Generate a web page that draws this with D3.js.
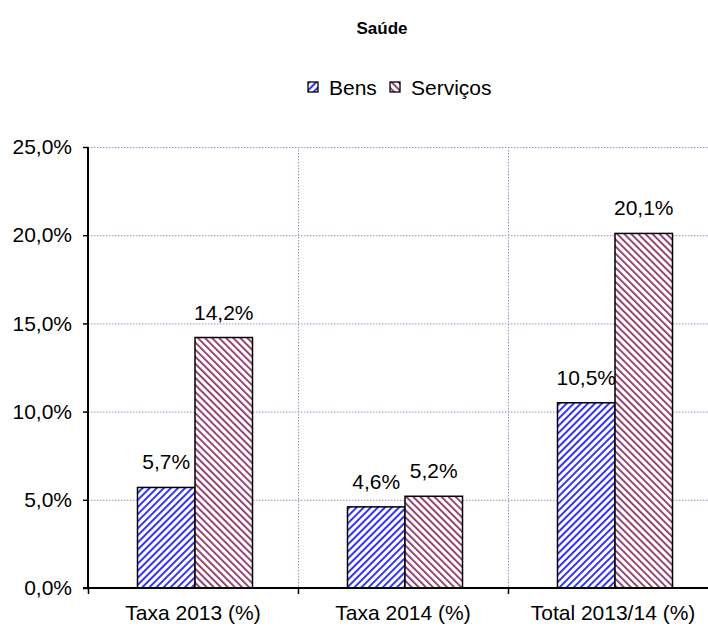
<!DOCTYPE html>
<html><head><meta charset="utf-8">
<script src="https://cdn.jsdelivr.net/npm/d3@7"></script>
<style>body{margin:0;background:#fff}svg{display:block;font-family:"Liberation Sans",Arial,sans-serif}</style>
</head><body><svg id="c" width="708" height="631"></svg>
<script>
const categories = ["Taxa 2013 (%)", "Taxa 2014 (%)", "Total 2013/14 (%)"];
const series = ["Bens", "Serviços"];
const bensValues = [0.057, 0.046, 0.105];
const servicosValues = [0.142, 0.052, 0.201];
const yTicks = [0, 0.05, 0.10, 0.15, 0.20, 0.25];
const title = "Saúde";

(function () {
const svg = d3.select("#c");
const FONT = "Liberation Sans, Arial, sans-serif";
const FS = 21;
const locale = d3.formatLocale({decimal: ",", thousands: ".", grouping: [3], currency: ["", ""]});
const fmt = locale.format(".1%");

const pL = 88, pR = 718, pT = 147, pB = 588;
const x = d3.scaleBand().domain(categories).range([pL, pR]).padding(0);
const xs = d3.scaleBand().domain(series).range([49.5, 164.5]).padding(0);
const y = d3.scaleLinear().domain([0, 0.25]).range([pB, pT]);

const defs = svg.append("defs");
function pat(id, color, dir, sw) {
  const p = defs.append("pattern").attr("id", id).attr("patternUnits", "userSpaceOnUse")
    .attr("width", 5).attr("height", 5)
    .attr("patternTransform", `rotate(${dir})`);
  p.append("rect").attr("width", 5).attr("height", 5).attr("fill", "#fff");
  p.append("rect").attr("x", 0).attr("y", 0).attr("width", sw).attr("height", 5).attr("fill", color);
}
pat("pBens", "#2a2af5", 45, 1.9);
pat("pServ", "#8e3366", -45, 1.8);
const fills = {"Bens": "url(#pBens)", "Serviços": "url(#pServ)"};

const grid = svg.append("g");
grid.selectAll("line.h").data(yTicks.filter(d => d > 0)).join("line")
  .attr("x1", pL).attr("x2", 708).attr("y1", d => y(d) + 0.5).attr("y2", d => y(d) + 0.5)
  .attr("stroke", "#9494cc").attr("stroke-width", 1).attr("stroke-dasharray", "1.5,1.5");
grid.selectAll("line.v").data(categories.slice(1)).join("line")
  .attr("x1", d => x(d) + 0.5).attr("x2", d => x(d) + 0.5).attr("y1", pT).attr("y2", pB)
  .attr("stroke", "#9494cc").attr("stroke-width", 1).attr("stroke-dasharray", "1.5,1.5");

const data = [];
categories.forEach((c, i) => {
  data.push({c, s: "Bens", v: bensValues[i]});
  data.push({c, s: "Serviços", v: servicosValues[i]});
});
svg.append("g").selectAll("rect").data(data).join("rect")
  .attr("x", d => x(d.c) + xs(d.s))
  .attr("y", d => y(d.v))
  .attr("width", xs.bandwidth())
  .attr("height", d => y(0) - y(d.v))
  .attr("fill", d => fills[d.s])
  .attr("stroke", "#000").attr("stroke-width", 1.5);

svg.append("g").selectAll("text").data(data).join("text")
  .attr("x", d => x(d.c) + xs(d.s) + xs.bandwidth() / 2)
  .attr("y", d => y(d.v) - 18)
  .attr("text-anchor", "middle").attr("font-size", FS).attr("fill", "#000")
  .text(d => fmt(d.v));

const yAxis = d3.axisLeft(y).tickValues(yTicks).tickFormat(fmt).tickSize(5).tickPadding(11);
const ya = svg.append("g").attr("transform", `translate(${pL},0)`).call(yAxis);
ya.select(".domain").attr("stroke", "#000").attr("stroke-width", 2).attr("d", `M0,${pT}V${pB}`);
ya.selectAll(".tick line").attr("stroke", "#000").attr("stroke-width", 1.5);
ya.selectAll(".tick text").attr("font-size", FS).attr("fill", "#000").attr("font-family", FONT);

const xAxis = d3.axisBottom(x).tickSize(0).tickPadding(17);
const xa = svg.append("g").attr("transform", `translate(0,${pB})`).call(xAxis);
xa.select(".domain").attr("stroke", "#000").attr("stroke-width", 2).attr("d", `M${pL - 5},0H${pR}`);
xa.selectAll(".tick text").attr("font-size", FS).attr("fill", "#000").attr("font-family", FONT);
svg.append("g").selectAll("line").data(categories).join("line")
  .attr("x1", d => x(d) + 0.5).attr("x2", d => x(d) + 0.5).attr("y1", pB).attr("y2", pB + 6)
  .attr("stroke", "#000").attr("stroke-width", 1.5);

svg.append("text").attr("x", 382).attr("y", 34).attr("text-anchor", "middle")
  .attr("font-size", 17).attr("font-weight", "bold").text(title);

const legX = [308, 390];
const lg = svg.append("g").selectAll("g").data(series).join("g")
  .attr("transform", (d, i) => `translate(${legX[i]},82)`);
lg.append("rect").attr("width", 10).attr("height", 10).attr("fill", d => fills[d])
  .attr("stroke", "#000").attr("stroke-width", 1.3);
lg.append("text").attr("x", 21).attr("y", 12.5).attr("font-size", FS).text(d => d);
})();
</script>
</body></html>
